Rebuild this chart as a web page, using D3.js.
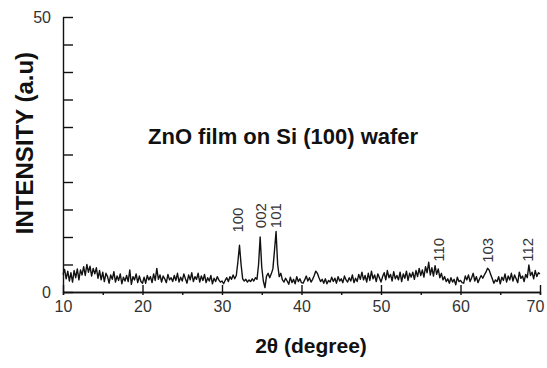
<!DOCTYPE html>
<html>
<head>
<meta charset="utf-8">
<script src="https://cdn.jsdelivr.net/npm/d3@7"></script>
<style>
  body { margin: 0; background: #fff; }
  svg { display: block; }
  .axis path, .axis line { stroke: #111; stroke-width: 1.4; }
  .axis text { font-family: "Liberation Sans", Arial, sans-serif; font-size: 16px; fill: #333; }
  .trace { fill: none; stroke: #111; stroke-width: 1.4; stroke-linejoin: round; }
  .peakLabel { font-family: "Liberation Sans", Arial, sans-serif; font-size: 15px; fill: #333; }
  .title { font-family: "Liberation Sans", Arial, sans-serif; font-weight: bold; fill: #111; }
</style>
</head>
<body>
<svg id="chart"></svg>
<script>
// 2theta from 10 to 70 deg, step 0.2 (one row per degree)
var angleStart = 10
var angleStep = 0.2
var intensity = [
  3.2, 4.1, 2.4, 3.8, 2.0,
  3.5, 1.8, 3.9, 2.6, 4.2,
  2.2, 4.0, 3.1, 4.6, 3.0,
  5.0, 3.6, 4.7, 2.9, 4.3,
  3.3, 4.4, 2.5, 3.9, 2.2,
  3.6, 1.9, 3.4, 2.8, 1.6,
  3.1, 2.3, 3.7, 1.8, 2.9,
  2.1, 3.3, 1.5, 2.7, 2.0,
  3.0, 1.9, 4.0, 1.4, 2.8,
  2.2, 3.3, 1.7, 2.9, 1.9,
  1.6, 2.7, 1.6, 3.0, 2.2,
  2.8, 1.7, 3.3, 2.1, 4.3,
  2.3, 3.1, 1.8, 2.9, 2.4,
  1.7, 3.2, 2.2, 2.6, 1.9,
  3.0, 2.1, 3.4, 1.8, 2.7,
  2.0, 3.3, 2.4, 1.6, 3.1,
  2.2, 3.5, 1.9, 2.8, 2.3,
  3.4, 1.8, 2.9, 2.1, 3.2,
  1.7, 2.6, 2.0, 3.0, 1.5,
  2.5, 1.9, 2.8, 2.2, 1.8,
  2.0, 1.5, 2.1, 2.6, 1.9,
  2.8, 2.3, 3.1, 2.4, 3.0,
  5.5, 8.5, 5.0, 2.4, 2.0,
  2.3, 1.8, 2.2, 1.9, 2.4,
  2.0, 2.6, 2.3, 5.0, 10.0,
  4.5, 2.0, 0.8, 2.9, 3.4,
  2.6, 3.3, 4.2, 7.5, 11.0,
  5.0, 2.8, 3.4, 2.2, 1.8,
  2.5, 2.0, 1.4, 2.7, 1.7,
  2.3, 1.5, 2.8, 1.9, 2.4,
  1.7, 1.6, 2.2, 2.9, 2.0,
  2.6, 1.8, 2.3, 3.0, 3.8,
  3.4, 2.6, 1.9, 2.3, 1.6,
  2.4, 1.5, 2.1, 1.8, 2.7,
  1.9, 2.5, 1.6, 2.8, 2.0,
  2.4, 1.7, 2.9, 2.2, 1.8,
  2.6, 2.0, 3.1, 1.7, 2.5,
  1.9, 3.2, 2.3, 3.6, 2.2,
  3.0, 1.8, 3.4, 2.1, 3.8,
  2.4, 3.1, 1.9, 3.3, 2.6,
  1.8, 2.8, 3.5, 2.2, 3.9,
  2.6, 3.2, 2.0, 3.7, 2.4,
  3.0, 2.2, 3.6, 1.9, 3.3,
  2.5, 3.8, 2.1, 3.4, 2.7,
  3.6, 2.3, 3.9, 2.8, 4.3,
  3.0, 4.0, 2.7, 4.6, 3.5,
  5.4, 3.1, 4.4, 2.9, 4.8,
  3.2, 4.2, 2.6, 3.4, 2.2,
  2.8, 1.9, 2.4, 1.6, 2.6,
  1.8, 2.3, 1.3, 2.7, 1.9,
  2.1, 1.7, 1.6, 2.9, 2.2,
  3.1, 1.9, 2.6, 3.4, 2.0,
  2.8, 1.7, 2.4, 3.0, 2.5,
  3.1, 3.6, 4.3, 4.0, 3.2,
  2.4, 1.6, 2.2, 1.9, 2.8,
  1.5, 2.7, 2.1, 3.3, 1.8,
  2.9, 2.2, 3.4, 2.0, 3.1,
  2.4, 1.7, 3.6, 2.5, 2.9,
  1.9, 3.2, 2.6, 4.9, 3.0,
  3.6, 2.4, 3.9, 2.8, 3.5,
  3.3
]

// peak labels (hkl) and where they sit
var peakNames = ['100', '002', '101', '110', '103', '112']
var peakAngles = [32.0, 34.9, 36.8, 57.3, 63.5, 68.5]
var peakLabelBase = [10.8, 11.6, 11.6, 5.5, 5.3, 5.5]

var xTicks = [10, 20, 30, 40, 50, 60, 70]
var xMinorTicks = [10, 15, 20, 25, 30, 35, 40, 45, 50, 55, 60, 65, 70]
var yTicks = [0, 5, 10, 15, 20, 25, 30, 35, 40, 45, 50]
var yLabelled = [0, 50]

var width = 547, height = 368
var svg = d3.select('#chart').attr('width', width).attr('height', height)

var x = d3.scaleLinear().domain([10, 70]).range([63, 540])
var y = d3.scaleLinear().domain([0, 50]).range([292, 17])

var points = intensity.map(function(v, i) { return [angleStart + i * angleStep, v] })

// y axis, ticks pointing inwards
svg.append('g')
  .attr('class', 'axis')
  .attr('transform', 'translate(' + x(10) + ',0)')
  .call(d3.axisLeft(y).tickValues(yTicks).tickSizeInner(-10).tickSizeOuter(0).tickPadding(12)
    .tickFormat(function(d) { return yLabelled.indexOf(d) >= 0 ? d : '' }))

// x axis: small ticks under the line, taller ones inside
svg.append('g')
  .attr('class', 'axis')
  .attr('transform', 'translate(0,' + y(0) + ')')
  .call(d3.axisBottom(x).tickValues(xMinorTicks).tickSize(3).tickFormat(''))
var xAxis = svg.append('g')
  .attr('class', 'axis')
  .attr('transform', 'translate(0,' + y(0) + ')')
  .call(d3.axisBottom(x).tickValues(xTicks).tickSizeInner(-7).tickSizeOuter(0).tickPadding(9)
    .tickFormat(d3.format('d')))
// last label sits a little to the left so it stays on the page
xAxis.selectAll('.tick text').filter(function(d) { return d === 70 }).attr('dx', -5)

var line = d3.line()
  .x(function(d) { return x(d[0]) })
  .y(function(d) { return y(d[1]) })
  .curve(d3.curveLinear)

svg.append('path')
  .attr('class', 'trace')
  .attr('d', line(points))

// hkl labels, rotated
peakNames.forEach(function(name, i) {
  svg.append('text')
    .attr('class', 'peakLabel')
    .attr('transform', 'translate(' + (x(peakAngles[i]) + 5) + ',' + y(peakLabelBase[i]) + ') rotate(-90)')
    .attr('text-anchor', 'start')
    .text(name)
})

svg.append('text')
  .attr('class', 'title')
  .attr('x', 148).attr('y', 144)
  .style('font-size', '22px')
  .text('ZnO film on Si (100) wafer')

svg.append('text')
  .attr('class', 'title')
  .attr('transform', 'translate(33,143) rotate(-90)')
  .attr('text-anchor', 'middle')
  .style('font-size', '24px')
  .text('INTENSITY (a.u)')

svg.append('text')
  .attr('class', 'title')
  .attr('x', 311).attr('y', 353)
  .attr('text-anchor', 'middle')
  .style('font-size', '21px')
  .text('2θ (degree)')
</script>
</body>
</html>
